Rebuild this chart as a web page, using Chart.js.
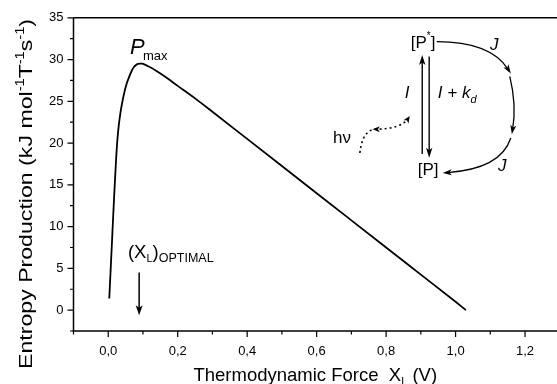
<!DOCTYPE html>
<html>
<head>
<meta charset="utf-8">
<script src="https://cdn.jsdelivr.net/npm/chart.js@4"></script>
<style>
  html, body { margin: 0; padding: 0; background: #fff; overflow: hidden; }
  #wrap { width: 557px; height: 384px; }
</style>
</head>
<body>
<div id="wrap"><canvas id="chart" width="557" height="384"></canvas></div>
<script>
// Curve: force X_L (V) vs entropy production
const forceX = [0.003, 0.01, 0.017, 0.022, 0.026, 0.03, 0.035, 0.04, 0.046, 0.053, 0.06, 0.067, 0.074, 0.08,
                0.086, 0.091, 0.097, 0.105, 0.115, 0.125, 0.14, 0.16, 0.2, 0.25, 0.3, 0.4, 0.5, 0.6, 0.7,
                0.8, 0.9, 1.0, 1.03];
const entropyY = [1.4, 7.5, 13.6, 17.6, 20.2, 22.0, 23.6, 24.8, 26.0, 27.1, 27.9, 28.6, 29.1, 29.35,
                  29.48, 29.52, 29.5, 29.4, 29.2, 28.98, 28.6, 28.05, 26.85, 25.35, 23.75, 20.5, 17.25, 14.0, 10.75,
                  7.5, 4.25, 1.0, 0.0];

// Axis ticks
const xTickLabels = [0, 0.2, 0.4, 0.6, 0.8, 1.0, 1.2];
const xMinorTicks = [-0.1, 0.1, 0.3, 0.5, 0.7, 0.9, 1.1];
const yTickLabels = [0, 5, 10, 15, 20, 25, 30, 35];
const yMinorTicks = [-2.5, 2.5, 7.5, 12.5, 17.5, 22.5, 27.5, 32.5];

const FONT = '"Liberation Sans", Arial, sans-serif';

// Draw a row of text pieces (normal / sub / superscript) starting at x
function drawRuns(ctx, x, y, runs) {
    for (const r of runs) {
        ctx.font = r.font;
        ctx.fillText(r.t, x, y + (r.dy || 0));
        x += ctx.measureText(r.t).width + (r.gap || 0);
    }
    return x;
}
function runsWidth(ctx, runs) {
    let w = 0;
    for (const r of runs) { ctx.font = r.font; w += ctx.measureText(r.t).width + (r.gap || 0); }
    return w;
}

function arrowHead(ctx, x, y, angle, len, half) {
    ctx.save();
    ctx.translate(x, y);
    ctx.rotate(angle);
    ctx.beginPath();
    ctx.moveTo(0, 0);
    ctx.lineTo(-len, -half);
    ctx.lineTo(-len * 0.75, 0);
    ctx.lineTo(-len, half);
    ctx.closePath();
    ctx.fill();
    ctx.restore();
}

const decor = {
    id: 'decor',
    afterDraw(chart) {
        const ctx = chart.ctx;
        const xs = chart.scales.x, ys = chart.scales.y;
        const a = chart.chartArea;
        const P = (x, y) => [xs.getPixelForValue(x), ys.getPixelForValue(y)];
        ctx.save();
        ctx.strokeStyle = '#000';
        ctx.fillStyle = '#000';
        ctx.lineWidth = 1.5;

        // frame: left, bottom, top
        ctx.beginPath();
        ctx.moveTo(a.left, a.top); ctx.lineTo(a.right, a.top);
        ctx.moveTo(a.left, a.top); ctx.lineTo(a.left, a.bottom);
        ctx.moveTo(a.left - 1, a.bottom); ctx.lineTo(a.right, a.bottom);
        ctx.stroke();

        // tick marks
        ctx.lineWidth = 1.2;
        ctx.beginPath();
        xTickLabels.forEach(v => { const p = xs.getPixelForValue(v); ctx.moveTo(p, a.bottom); ctx.lineTo(p, a.bottom + 6); });
        xMinorTicks.forEach(v => { const p = xs.getPixelForValue(v); ctx.moveTo(p, a.bottom); ctx.lineTo(p, a.bottom + 3.5); });
        yTickLabels.forEach(v => { const p = ys.getPixelForValue(v); ctx.moveTo(a.left, p); ctx.lineTo(a.left - 6, p); });
        yMinorTicks.forEach(v => { const p = ys.getPixelForValue(v); ctx.moveTo(a.left, p); ctx.lineTo(a.left - 3.5, p); });
        ctx.stroke();

        // axis titles
        ctx.textBaseline = 'alphabetic';
        ctx.textAlign = 'left';
        const big = '18.5px ' + FONT, small = '11px ' + FONT;
        const xt = [
            { t: 'Thermodynamic Force  X', font: big },
            { t: 'L', font: small, dy: 4 },
            { t: ' (V)', font: big }
        ];
        const cx = (a.left + a.right) / 2;
        drawRuns(ctx, cx - runsWidth(ctx, xt) / 2, 381, xt);

        const yBig = '19px ' + FONT, ySmall = '12px ' + FONT;
        const yt = [
            { t: 'Entropy Production (kJ mol', font: yBig },
            { t: '-1', font: ySmall, dy: -8 },
            { t: 'T', font: yBig },
            { t: '-1', font: ySmall, dy: -8 },
            { t: 's', font: yBig },
            { t: '-1', font: ySmall, dy: -8 },
            { t: ')', font: yBig }
        ];
        ctx.save();
        ctx.translate(32, 194);
        ctx.rotate(-Math.PI / 2);
        const yw = runsWidth(ctx, yt);
        ctx.scale(350 / yw, 1);   // the original title is drawn stretched along its length
        drawRuns(ctx, -yw / 2, 0, yt);
        ctx.restore();

        // P_max label
        let [px, py] = P(0.063, 30.7);
        drawRuns(ctx, px, py, [{ t: 'P', font: 'italic 22px ' + FONT, gap: 1 }]);
        [px, py] = P(0.1, 29.9);
        drawRuns(ctx, px, py, [{ t: 'max', font: '13px ' + FONT }]);

        // (X_L)_OPTIMAL label and arrow
        [px, py] = P(0.0567, 6.3);
        drawRuns(ctx, px, py, [
            { t: '(X', font: big },
            { t: 'L', font: small, dy: 4 },
            { t: ')', font: big },
            { t: 'OPTIMAL', font: '12.5px ' + FONT, dy: 4 }
        ]);
        let [ax1, ay1] = P(0.089, 4.5), [ax2, ay2] = P(0.089, -0.6);
        ctx.lineWidth = 1.5;
        ctx.beginPath(); ctx.moveTo(ax1, ay1); ctx.lineTo(ax2, ay2 - 6); ctx.stroke();
        arrowHead(ctx, ax2, ay2, Math.PI / 2, 10, 3.5);

        // reaction scheme
        const txt = '17px ' + FONT, ital = 'italic 17px ' + FONT;
        [px, py] = P(0.871, 31.4);
        drawRuns(ctx, px, py, [{ t: '[P', font: txt }, { t: '*', font: '10px ' + FONT, dy: -9 }, { t: ']', font: txt }]);
        [px, py] = P(0.891, 16.2);
        drawRuns(ctx, px, py, [{ t: '[P]', font: txt }]);
        [px, py] = P(0.854, 25.36);
        drawRuns(ctx, px, py, [{ t: 'I', font: ital }]);
        [px, py] = P(0.949, 25.36);
        drawRuns(ctx, px, py, [{ t: 'I + k', font: ital }, { t: 'd', font: 'italic 11px ' + FONT, dy: 5 }]);
        [px, py] = P(1.099, 31.2);
        drawRuns(ctx, px, py, [{ t: 'J', font: ital }]);
        [px, py] = P(1.122, 16.67);
        drawRuns(ctx, px, py, [{ t: 'J', font: ital }]);
        [px, py] = P(0.647, 20.0);
        drawRuns(ctx, px, py, [{ t: 'h\u03bd', font: txt }]);

        // vertical up / down arrows
        ctx.lineWidth = 1.4;
        let [u1x, u1y] = P(0.904, 18.7), [u2x, u2y] = P(0.904, 30.56);
        ctx.beginPath(); ctx.moveTo(u1x, u1y); ctx.lineTo(u2x, u2y + 6); ctx.stroke();
        arrowHead(ctx, u2x, u2y, -Math.PI / 2, 10, 3.2);
        let [d1x, d1y] = P(0.924, 30.36), [d2x, d2y] = P(0.924, 18.25);
        ctx.beginPath(); ctx.moveTo(d1x, d1y); ctx.lineTo(d2x, d2y - 6); ctx.stroke();
        arrowHead(ctx, d2x, d2y, Math.PI / 2, 10, 3.2);

        // curved J arrows
        const curve = (s, c, e) => {
            const [sx, sy] = P(...s), [qx, qy] = P(...c), [ex, ey] = P(...e);
            const ang = Math.atan2(ey - qy, ex - qx);
            ctx.beginPath();
            ctx.moveTo(sx, sy);
            ctx.quadraticCurveTo(qx, qy, ex - Math.cos(ang) * 5, ey - Math.sin(ang) * 5);
            ctx.stroke();
            arrowHead(ctx, ex, ey, ang, 9, 3);
        };
        ctx.lineWidth = 1.3;
        curve([0.946, 32.14], [1.10, 32.14], [1.159, 28.33]);
        curve([1.156, 27.98], [1.176, 24.6], [1.162, 21.07]);
        curve([1.159, 20.6], [1.13, 16.9], [0.963, 16.43]);

        // dotted h-nu arrow
        const q = [[0.7245, 18.81], [0.730, 20.83], [0.747, 21.67], [0.773, 21.67],
                   [0.817, 21.67], [0.851, 22.14], [0.866, 23.0]].map(v => P(...v));
        ctx.save();
        ctx.setLineDash([2, 3]);
        ctx.lineWidth = 1.6;
        ctx.beginPath();
        ctx.moveTo(q[0][0], q[0][1]);
        ctx.bezierCurveTo(q[1][0], q[1][1], q[2][0], q[2][1], q[3][0], q[3][1]);
        ctx.bezierCurveTo(q[4][0], q[4][1], q[5][0], q[5][1], q[6][0], q[6][1]);
        ctx.stroke();
        ctx.restore();
        arrowHead(ctx, q[3][0] - 4, q[3][1], Math.PI, 7, 3);
        const [hx, hy] = P(0.868, 23.25);
        arrowHead(ctx, hx, hy, Math.atan2(hy - q[5][1], hx - q[5][0]), 7, 3);

        ctx.restore();
    }
};

const chart = new Chart(document.getElementById('chart'), {
    type: 'scatter',
    data: {
        datasets: [{
            data: forceX.map((x, i) => ({ x, y: entropyY[i] })),
            showLine: true,
            borderColor: '#000',
            borderWidth: 1.8,
            pointRadius: 0,
            cubicInterpolationMode: 'monotone',
            fill: false
        }]
    },
    plugins: [decor],
    options: {
        responsive: false,
        animation: false,
        layout: { padding: { top: 16, right: 0, left: 0, bottom: 0 } },
        plugins: { legend: { display: false }, tooltip: { enabled: false } },
        scales: {
            x: {
                type: 'linear',
                min: -0.1,
                max: 1.292,
                grid: { display: false, drawTicks: false },
                border: { display: false },
                afterFit: s => { s.height = 53; },
                afterBuildTicks: s => { s.ticks = xTickLabels.map(v => ({ value: v })); },
                ticks: {
                    padding: 13,
                    color: '#000',
                    font: { family: FONT, size: 13 },
                    maxRotation: 0,
                    autoSkip: false,
                    callback: v => v.toFixed(1).replace('.', ',')
                }
            },
            y: {
                type: 'linear',
                min: -2.5,
                max: 35,
                grid: { display: false, drawTicks: false },
                border: { display: false },
                afterFit: s => { s.width = 73.5; },
                afterBuildTicks: s => { s.ticks = yTickLabels.map(v => ({ value: v })); },
                ticks: {
                    padding: 10,
                    color: '#000',
                    font: { family: FONT, size: 13 },
                    autoSkip: false,
                    callback: v => String(v)
                }
            }
        }
    }
});
</script>
</body>
</html>
